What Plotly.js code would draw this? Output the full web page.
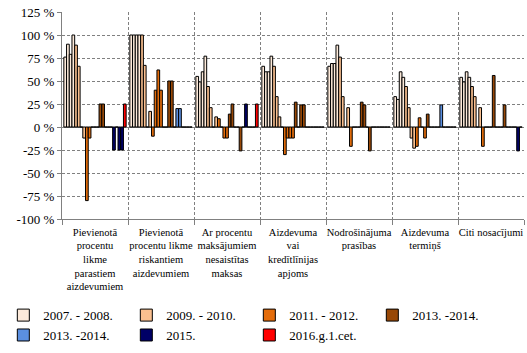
<!DOCTYPE html>
<html><head><meta charset="utf-8">
<script src="https://cdn.plot.ly/plotly-3.0.1.min.js"></script>
<style>html,body{margin:0;padding:0;background:#fff}#chart{width:527px;height:353px}</style>
</head><body><div id="chart"></div>
<script>
// Categories (x axis labels)
const categories = [
  "Pievienotā<br>procentu<br>likme<br>parastiem<br>aizdevumiem",
  "Pievienotā<br>procentu likme<br>riskantiem<br>aizdevumiem",
  "Ar procentu<br>maksājumiem<br>nesaistītas<br>maksas",
  "Aizdevuma<br>vai<br>kredītlīnijas<br>apjoms",
  "Nodrošinājuma<br>prasības",
  "Aizdevuma<br>termiņš",
  "Citi nosacījumi"
];
// Legend labels of the periods
const periodLabels = ["2007. - 2008.", "2009. - 2010.", "2011. - 2012.", "2013. -2014.", "2013. -2014.", "2015.", "2016.g.1.cet."];
// Which period each survey round (bar slot) belongs to
const slotPeriod = [0,0,0,0, 1,1,1,1, 2,2,2,2, 3,3,3,3,3, 4, 5,5,5,5, 6];
// Values (%) per category, one per survey round
const valsRateRegular = [76,90,79,100, 89,66,0,-12, -80,-12,0,0, 0,25,25,0,0, 0, -25,0,-25,-25, 25];
const valsRateRisky   = [100,100,100,100, 100,67,0,17, -10,40,62,40, 0,0,50,50,0, 20, 20,0,0,0, 0];
const valsNonInterest = [55,49,60,77, 44,21,0,11, 9,0,-12,-12, 14,25,0,0,-26, 0, 25,0,0,0, 25];
const valsLoanSize    = [66,60,60,77, 66,33,11,0, -30,-12,-12,-12, 27,0,24,24,0, 0, 0,0,0,0, 0];
const valsCollateral  = [66,69,69,89, 76,33,0,21, -21,0,0,0, 27,24,0,-26,0, 0, 0,0,0,0, 0];
const valsMaturity    = [33,30,60,54, 44,21,-12,-23, -21,10,0,-12, 14,0,0,0,0, 24, 0,0,0,0, 0];
const valsOther       = [54,49,60,54, 44,33,0,21, -21,0,0,0, 56,0,0,0,24, 0, 0,0,0,-26, 0];
// y tick labels
const yTickVals = [-100,-75,-50,-25,0,25,50,75,100,125];
const yTickText = ["-100 %","-75 %","-50 %","-25 %","0 %","25 %","50 %","75 %","100 %","125 %"];

const catVals = [valsRateRegular, valsRateRisky, valsNonInterest, valsLoanSize, valsCollateral, valsMaturity, valsOther];
const periodColors = ["#FDEADA", "#FAC090", "#E46C0A", "#984807", "#5B8FE0", "#000066", "#FF0000"];
// bar drawn in the blue series colour in the second category
const colorOverride = {"1_18": 4};

const traces = slotPeriod.map((p, s) => ({
  type: 'bar',
  x: categories,
  y: catVals.map(v => v[s]),
  name: periodLabels[p],
  showlegend: slotPeriod.indexOf(p) === s,
  marker: {
    color: categories.map((c, ci) => periodColors[(colorOverride[ci + "_" + s] !== undefined) ? colorOverride[ci + "_" + s] : p]),
    line: {color: '#000000', width: 1}
  },
  hoverinfo: 'name+y'
}));

const grid = '#808080';
const serif = 'Liberation Serif';
const layout = {
  width: 527, height: 353,
  margin: {l: 59, r: 3, t: 12, b: 133},
  barmode: 'group', bargap: 0.056, bargroupgap: 0,
  font: {family: serif, color: '#000', size: 13},
  paper_bgcolor: '#fff', plot_bgcolor: '#fff',
  xaxis: {
    type: 'category', tickson: 'boundaries', showgrid: true, gridcolor: grid, griddash: '3px,2px', gridwidth: 1,
    showline: true, linecolor: grid, linewidth: 1, ticks: 'outside', ticklen: 5, tickcolor: grid,
    tickfont: {family: serif, size: 10.5}, tickangle: 0, ticklabelstandoff: 3, automargin: false
  },
  yaxis: {
    range: [-100, 125], tickvals: yTickVals, ticktext: yTickText,
    showgrid: true, gridcolor: grid, griddash: '3px,2px', gridwidth: 1,
    zeroline: true, zerolinecolor: grid, zerolinewidth: 1,
    showline: true, linecolor: grid, linewidth: 1, ticks: 'outside', ticklen: 4, tickcolor: grid,
    tickfont: {family: serif, size: 13}, automargin: false
  },
  legend: {
    orientation: 'h', xref: 'paper', yref: 'paper', x: -0.127, y: -0.392,
    xanchor: 'left', yanchor: 'top', font: {family: serif, size: 13},
    entrywidth: 78, entrywidthmode: 'pixels', traceorder: 'normal', tracegroupgap: 0
  }
};
Plotly.newPlot('chart', traces, layout, {displayModeBar: false, staticPlot: true});
</script>
</body></html>
